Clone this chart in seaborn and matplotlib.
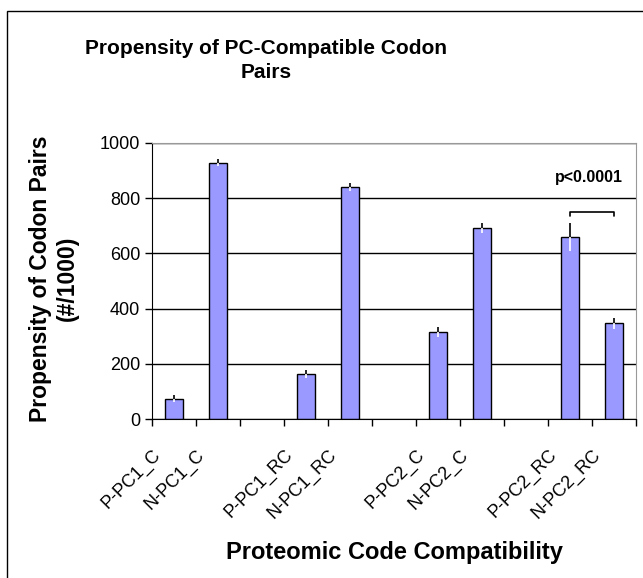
# Propensity of PC-Compatible Codon Pairs
import matplotlib
matplotlib.use("Agg")
import pandas as pd
import matplotlib.pyplot as plt
import matplotlib.transforms as mtrans
import seaborn as sb

# Data
slots = ['P-PC1_C', 'N-PC1_C', ' ', 'P-PC1_RC', 'N-PC1_RC', '  ',
         'P-PC2_C', 'N-PC2_C', '   ', 'P-PC2_RC', 'N-PC2_RC']
groups = ['P-PC1_C', 'N-PC1_C', 'P-PC1_RC', 'N-PC1_RC',
          'P-PC2_C', 'N-PC2_C', 'P-PC2_RC', 'N-PC2_RC']
propensity = [74, 929, 163, 841, 314, 692, 659, 347]
errors = [14, 12, 16, 15, 18, 18, 52, 19]

df = pd.DataFrame({'group': groups, 'value': propensity, 'err': errors})

sb.set_style('white')
plt.rcParams['font.family'] = ['Liberation Sans', 'DejaVu Sans']
plt.rcParams['text.color'] = 'black'
plt.rcParams['axes.labelcolor'] = 'black'
plt.rcParams['xtick.color'] = 'black'
plt.rcParams['ytick.color'] = 'black'

fig = plt.figure(figsize=(6.43, 5.78), dpi=100)
ax = fig.add_axes([0.2364, 0.275, 0.7526, 0.4776])

sb.barplot(data=df, x='group', y='value', order=slots, color='#9999FF',
           edgecolor='black', linewidth=1, width=0.41, saturation=1, ax=ax)

# error bars: black above the bar top, white inside the bar
pos = [slots.index(g) for g in groups]
ax.vlines(pos, df['value'], df['value'] + df['err'], color='black', lw=1.2, zorder=5)
ax.vlines(pos, df['value'] - df['err'], df['value'], color='white', lw=1.2, zorder=5)

ax.set_ylim(0, 1000)
ax.set_xlim(-0.5, len(slots) - 0.5)
ax.set_yticks([0, 200, 400, 600, 800, 1000])
ax.yaxis.grid(True, color='black', lw=1)
ax.set_axisbelow(True)
for s in ['top', 'right']:
    ax.spines[s].set_color('#999999')
for s in ['left', 'bottom']:
    ax.spines[s].set_color('black')
ax.tick_params(axis='y', direction='out', length=5, width=1,
               labelsize=13, left=True)
ax.tick_params(axis='x', which='major', length=0, labelsize=13, pad=14)
ax.set_xticks([i - 0.5 for i in range(len(slots) + 1)], minor=True)
ax.tick_params(axis='x', which='minor', direction='out', length=5, width=1,
               bottom=True)
ax.set_xticks(range(len(slots)))
ax.set_xticklabels(slots, rotation=45, ha='right', va='center',
                   rotation_mode='anchor')
shift = mtrans.ScaledTranslation(-16 / 100, -14 / 100, fig.dpi_scale_trans)
for lab in ax.get_xticklabels():
    lab.set_transform(lab.get_transform() + shift)

# significance bracket
i9, i10 = slots.index('P-PC2_RC'), slots.index('N-PC2_RC')
ax.plot([i9, i9, i10, i10], [737, 750, 750, 737], color='black', lw=1.2)
ax.text(10.2, 875, 'p<0.0001', ha='right', va='center', fontsize=11.5,
        fontweight='bold')

ax.set_xlabel('Proteomic Code Compatibility', fontsize=17, fontweight='bold')
ax.xaxis.set_label_coords(0.5, -0.44)
ax.set_ylabel('Propensity of Codon Pairs\n(#/1000)', fontsize=16.5,
              fontweight='bold')
ax.yaxis.set_label_coords(-0.152, 0.51)
fig.text(0.414, 0.932, 'Propensity of PC-Compatible Codon\nPairs', fontsize=15,
         fontweight='bold', ha='center', va='top', linespacing=1.3)

# outer frame of the chart area
fig.patches.append(plt.Rectangle((0.011, -0.05), 1.0, 1.031, transform=fig.transFigure,
                                 fill=False, edgecolor='black', lw=1))

plt.savefig('out.png', dpi=100)
